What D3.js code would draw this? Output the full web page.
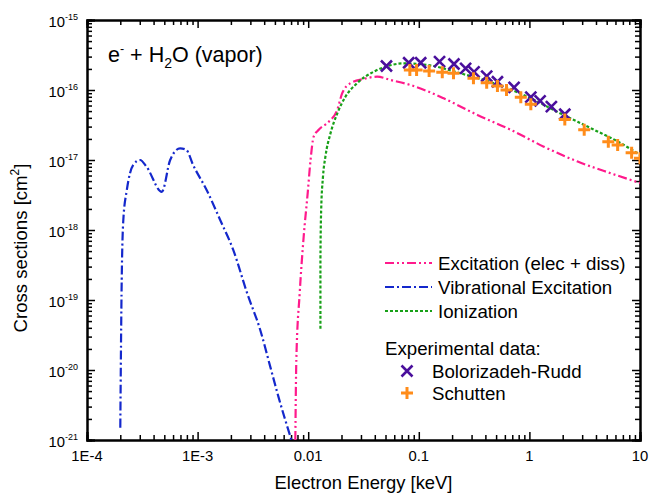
<!DOCTYPE html>
<html><head><meta charset="utf-8">
<script src="https://cdn.jsdelivr.net/npm/d3@7"></script>
<style>
html,body{margin:0;padding:0;background:#fff;}
text{font-family:Arial,"Liberation Sans",sans-serif;fill:#000;}
</style></head>
<body><svg id="c" width="650" height="494"></svg>
<script>
// ---- data (energy keV, cross section cm^2) ----
const vibE = [2.0e-4,2.06e-4,2.13e-4,2.29e-4,2.62e-4,3.02e-4,3.47e-4,4.75e-4,5.65e-4,6.95e-4,7.9e-4,9.1e-4,1.21e-3,1.6e-3,2.1e-3,2.8e-3,3.69e-3,4.55e-3,5.37e-3,7.05e-3];
const vibS = [1.5e-21,1.93e-19,1.39e-18,3.7e-18,8.5e-18,1.0e-17,7.9e-18,3.5e-18,1.0e-17,1.47e-17,1.4e-17,8.5e-18,3.7e-18,1.39e-18,5.2e-19,1.26e-19,3.7e-20,1.1e-20,4.2e-21,1.0e-21];
const excE = [7.65e-3,7.81e-3,8.38e-3,9.1e-3,9.9e-3,1.05e-2,1.12e-2,1.245e-2,1.53e-2,1.83e-2,2.03e-2,2.41e-2,3.18e-2,4.2e-2,5.56e-2,8.4e-2,0.168,0.339,0.679,1.35,2.73,5.46,10];
const excS = [1.0e-21,1.39e-20,1.26e-19,8.0e-19,3.4e-18,1.0e-17,2.15e-17,2.7e-17,3.5e-17,5.2e-17,9.0e-17,1.25e-16,1.44e-16,1.55e-16,1.39e-16,1.18e-16,7.6e-17,4.4e-17,2.7e-17,1.55e-17,9.5e-18,6.45e-18,4.7e-18];
const ionE = [1.29e-2,1.29e-2,1.31e-2,1.36e-2,1.43e-2,1.59e-2,1.83e-2,2.17e-2,2.77e-2,3.9e-2,5.0e-2,7.3e-2,0.119,0.239,0.479,0.96,1.92,3.85,6.7,10];
const ionS = [3.9e-20,3.7e-19,1.93e-18,5.75e-18,1.11e-17,2.4e-17,4.6e-17,8.0e-17,1.25e-16,1.82e-16,2.15e-16,2.4e-16,2.28e-16,1.73e-16,1.25e-16,8.0e-17,4.6e-17,2.7e-17,1.74e-17,1.18e-17];
const brE = [0.051,0.081,0.104,0.154,0.208,0.265,0.316,0.411,0.514,0.727,1.03,1.25,1.58,2.09];
const brS = [2.2e-16,2.45e-16,2.45e-16,2.54e-16,2.35e-16,2.04e-16,1.82e-16,1.58e-16,1.31e-16,1.09e-16,7.9e-17,7.0e-17,5.8e-17,4.5e-17];
const scE = [0.083,0.0955,0.124,0.163,0.206,0.312,0.411,0.514,0.621,0.836,1.03,2.09,3.13,5.17,6.28,8.4,10.0];
const scS = [1.93e-16,1.93e-16,1.87e-16,1.79e-16,1.73e-16,1.47e-16,1.27e-16,1.14e-16,1.0e-16,7.9e-17,6.25e-17,3.8e-17,2.7e-17,1.82e-17,1.64e-17,1.27e-17,1.06e-17];
const xTickVals = [1e-4,1e-3,1e-2,1e-1,1,10];
const xTickLabels = ["1E-4","1E-3","0.01","0.1","1","10"];
const yTickVals = [1e-21,1e-20,1e-19,1e-18,1e-17,1e-16,1e-15];
const yTickExp = ["-21","-20","-19","-18","-17","-16","-15"];
const legendLabels = ["Excitation (elec + diss)","Vibrational Excitation","Ionization"];

// ---- layout ----
const L=87,R=640,T=20,B=440;
const svg=d3.select("#c");
const x=d3.scaleLog().domain([1e-4,10]).range([L,R]);
const y=d3.scaleLog().domain([1e-21,1e-15]).range([B,T]);

function minors(lo,hi){const a=[];for(let e=lo;e<hi;e++)for(let m=2;m<=9;m++)a.push(m*Math.pow(10,e));return a;}
const xMin=minors(-4,1), yMin=minors(-21,-15);

function ax(gen,scale,vals,size,tr){
  const g=svg.append("g").attr("transform",tr).call(gen(scale).tickValues(vals).tickSize(size).tickFormat(""));
  g.selectAll("path,line").attr("stroke","#000").attr("stroke-width",1.5);
  g.select(".domain").attr("stroke-width",2);
  return g;
}
ax(d3.axisBottom,x,xTickVals,-8,`translate(0,${B})`);
ax(d3.axisBottom,x,xMin,-5,`translate(0,${B})`);
ax(d3.axisTop,x,xTickVals,-8,`translate(0,${T})`);
ax(d3.axisTop,x,xMin,-5,`translate(0,${T})`);
ax(d3.axisLeft,y,yTickVals,-8,`translate(${L},0)`);
ax(d3.axisLeft,y,yMin,-5,`translate(${L},0)`);
ax(d3.axisRight,y,yTickVals,-8,`translate(${R},0)`);
ax(d3.axisRight,y,yMin,-5,`translate(${R},0)`);

// tick labels
svg.append("g").selectAll("text").data(xTickVals).join("text")
  .attr("x",d=>x(d)).attr("y",B+21).attr("text-anchor","middle").style("font-size","14.8px")
  .text((d,i)=>xTickLabels[i]);
const yl=svg.append("g").selectAll("text").data(yTickVals).join("text")
  .attr("x",L-9).attr("y",d=>y(d)+7).attr("text-anchor","end").style("font-size","14.8px");
yl.append("tspan").text("10");
yl.append("tspan").attr("dy",-7).style("font-size","9px").text((d,i)=>yTickExp[i]);

// axis titles
svg.append("text").attr("x",(L+R)/2).attr("y",489).attr("text-anchor","middle").style("font-size","18.4px").text("Electron Energy [keV]");
const yt=svg.append("text").attr("transform","translate(27,248) rotate(-90)").attr("text-anchor","middle").style("font-size","18.6px");
yt.append("tspan").text("Cross sections [cm");
yt.append("tspan").attr("dy",-8).style("font-size","12px").text("2");
yt.append("tspan").attr("dy",8).text("]");

// title
const tt=svg.append("text").attr("x",108).attr("y",62).style("font-size","21.5px");
tt.append("tspan").text("e");
tt.append("tspan").attr("dy",-9).style("font-size","12.5px").text("-");
tt.append("tspan").attr("dy",9).text(" + H");
tt.append("tspan").attr("dy",6).style("font-size","14px").text("2");
tt.append("tspan").attr("dy",-6).text("O (vapor)");

// clip
svg.append("clipPath").attr("id","clip").append("rect").attr("x",L).attr("y",T).attr("width",R-L).attr("height",B-T);
const plot=svg.append("g").attr("clip-path","url(#clip)");
const line=d3.line().x(d=>x(d[0])).y(d=>y(d[1])).curve(d3.curveMonotoneX);
const zip=(a,b)=>a.map((v,i)=>[v,b[i]]);

const styles=[
  {col:"#ff1a8c",dash:"9,3,2,3,2,3"},
  {col:"#1428cc",dash:"9,3,2,3"},
  {col:"#18a018",dash:"3,2"}
];
plot.append("path").datum(zip(vibE,vibS)).attr("d",line).attr("fill","none").attr("stroke",styles[1].col).attr("stroke-width",2.2).attr("stroke-dasharray",styles[1].dash);
plot.append("path").datum(zip(excE,excS)).attr("d",line).attr("fill","none").attr("stroke",styles[0].col).attr("stroke-width",2.2).attr("stroke-dasharray",styles[0].dash);
plot.append("path").datum(zip(ionE,ionS)).attr("d",line).attr("fill","none").attr("stroke",styles[2].col).attr("stroke-width",2.2).attr("stroke-dasharray",styles[2].dash);

const purple="#4a0f9c", orange="#ff8c1a";
function xMark(g,cx,cy,s){g.append("path").attr("d",`M${cx-s},${cy-s}L${cx+s},${cy+s}M${cx-s},${cy+s}L${cx+s},${cy-s}`).attr("stroke",purple).attr("stroke-width",2.6).attr("fill","none");}
function pMark(g,cx,cy,s){g.append("path").attr("d",`M${cx-s},${cy}L${cx+s},${cy}M${cx},${cy-s}L${cx},${cy+s}`).attr("stroke",orange).attr("stroke-width",3).attr("fill","none");}
zip(brE,brS).forEach(d=>xMark(plot,x(d[0]),y(d[1]),5.5));
zip(scE,scS).forEach(d=>pMark(plot,x(d[0]),y(d[1]),6));

// legend
const lg=svg.append("g");
[0,1,2].forEach(i=>{
  const yy=263+i*24;
  lg.append("line").attr("x1",385).attr("x2",432).attr("y1",yy).attr("y2",yy).attr("stroke",styles[i].col).attr("stroke-width",2.2).attr("stroke-dasharray",styles[i].dash);
  lg.append("text").attr("x",438).attr("y",yy+6.5).style("font-size","18.7px").text(legendLabels[i]);
});
lg.append("text").attr("x",385).attr("y",354.5).style("font-size","18.7px").text("Experimental data:");
xMark(lg,407,371,5.5);
lg.append("text").attr("x",432).attr("y",377.5).style("font-size","18.7px").text("Bolorizadeh-Rudd");
pMark(lg,407,393,6);
lg.append("text").attr("x",432).attr("y",399.5).style("font-size","18.7px").text("Schutten");
</script></body></html>
